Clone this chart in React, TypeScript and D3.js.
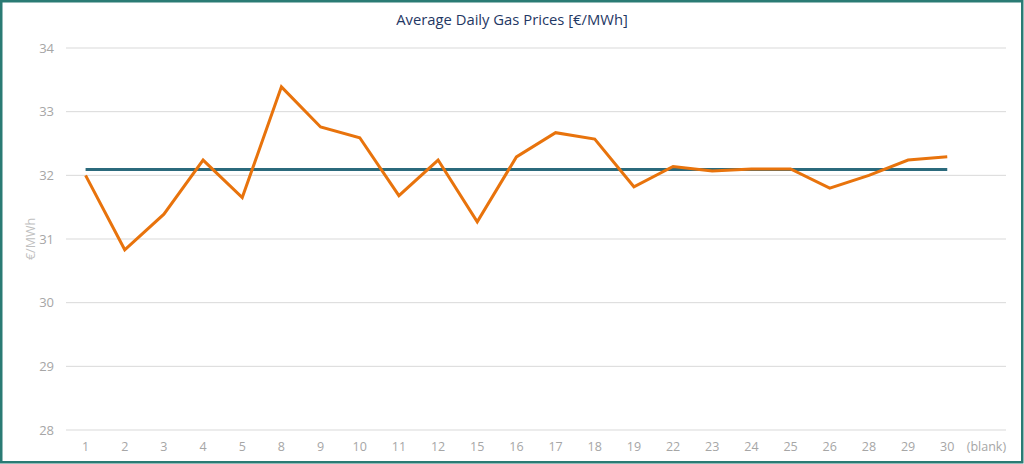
import React from "react";
import * as d3 from "d3";

const categories = ["1","2","3","4","5","8","9","10","11","12","15","16","17","18","19","22","23","24","25","26","28","29","30","(blank)"];
const dailyPrices: (number | null)[] = [32.0,30.83,31.39,32.24,31.65,33.39,32.76,32.59,31.68,32.24,31.27,32.29,32.67,32.57,31.82,32.14,32.07,32.1,32.1,31.8,32.0,32.24,32.29,null];
const averagePrice: (number | null)[] = [32.09,32.09,32.09,32.09,32.09,32.09,32.09,32.09,32.09,32.09,32.09,32.09,32.09,32.09,32.09,32.09,32.09,32.09,32.09,32.09,32.09,32.09,32.09,null];
const yTicks = [28, 29, 30, 31, 32, 33, 34];
const title = "Average Daily Gas Prices [€/MWh]";
const yLabel = "€/MWh";

export default function App() {
  const W = 1024, H = 464;
  const left = 66, right = 1006, top = 48, bottom = 430;
  const x = d3.scaleBand<string>().domain(categories).range([left, right]);
  const y = d3.scaleLinear().domain([28, 34]).range([bottom, top]);
  const cx = (c: string) => (x(c) as number) + x.bandwidth() / 2;
  const line = d3.line<number | null>()
    .defined((d) => d !== null)
    .x((_, i) => cx(categories[i]))
    .y((d) => y(d as number));
  const font = "'Open Sans', 'Liberation Sans', sans-serif";
  return (
    <div style={{ position: "fixed", left: 0, top: 0 }}>
      <svg width={W} height={H} style={{ display: "block", background: "#fff" }}>
        <rect x={1.25} y={1.25} width={W - 3} height={H - 3} fill="#fff" stroke="#2A7B74" strokeWidth={2.5} />
        <text x={512} y={25} textAnchor="middle" fontFamily={font} fontSize={14.8} fill="#1F3864">{title}</text>
        {yTicks.map((t) => (
          <g key={t}>
            <line x1={left} x2={right} y1={y(t)} y2={y(t)} stroke="#D9D9D9" strokeWidth={1} />
            <text x={54} y={y(t) + 4.5} textAnchor="end" fontFamily={font} fontSize={13} fill="#A6A6A6">{t}</text>
          </g>
        ))}
        {categories.map((c) => (
          <text key={c} x={cx(c)} y={451} textAnchor="middle" fontFamily={font} fontSize={12.5} fill="#A6A6A6">{c}</text>
        ))}
        <text transform={`translate(35,${y(31)}) rotate(-90)`} textAnchor="middle" fontFamily={font} fontSize={12.5} fill="#BFBFBF">{yLabel}</text>
        <path d={line(averagePrice) || ""} fill="none" stroke="#2B6A7C" strokeWidth={3} />
        <path d={line(dailyPrices) || ""} fill="none" stroke="#E8730C" strokeWidth={3} strokeLinejoin="miter" />
      </svg>
    </div>
  );
}
